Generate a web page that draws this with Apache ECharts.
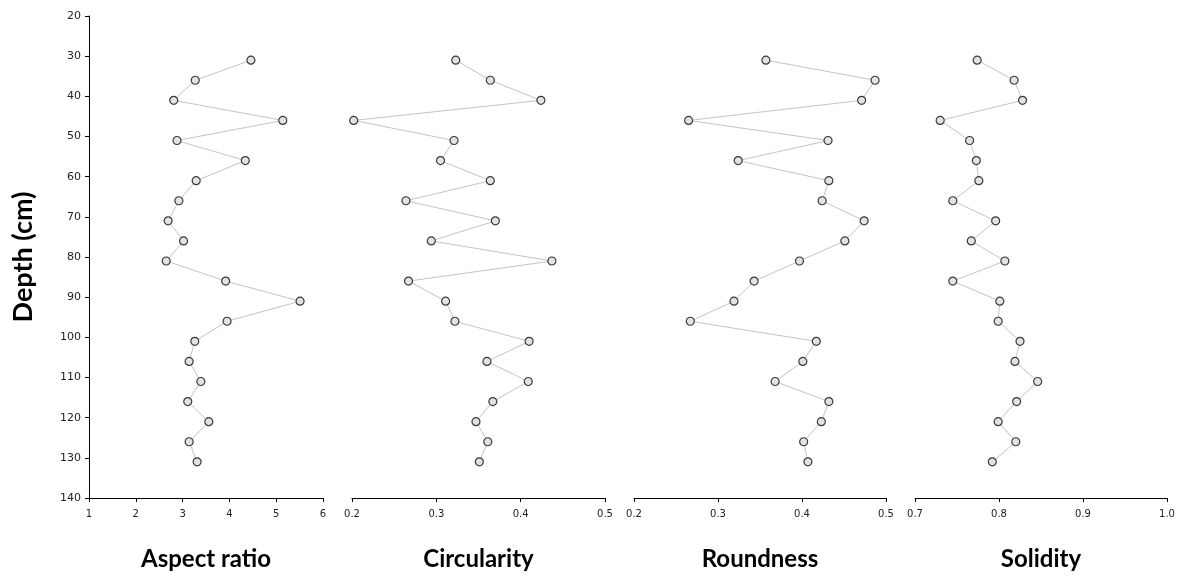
<!DOCTYPE html>
<html>
<head>
<meta charset="utf-8">
<script src="https://cdn.jsdelivr.net/npm/echarts@6/dist/echarts.min.js"></script>
<style>
  html, body { margin: 0; padding: 0; background: #fff; }
  #chart { width: 1184px; height: 576px; }
</style>
</head>
<body>
<div id="chart"></div>
<script>
// Sampling depths (cm)
const depths = [31, 36, 41, 46, 51, 56, 61, 66, 71, 76, 81, 86, 91, 96, 101, 106, 111, 116, 121, 126, 131];

// Shape descriptors per depth
const aspectRatio = [4.46, 3.27, 2.81, 5.14, 2.88, 4.34, 3.29, 2.92, 2.69, 3.02, 2.65, 3.92, 5.51, 3.95, 3.26, 3.14, 3.39, 3.11, 3.56, 3.14, 3.31];
const circularity = [0.323, 0.364, 0.424, 0.202, 0.321, 0.305, 0.364, 0.264, 0.370, 0.294, 0.437, 0.267, 0.311, 0.322, 0.410, 0.360, 0.409, 0.367, 0.347, 0.361, 0.351];
const roundness = [0.357, 0.487, 0.471, 0.265, 0.431, 0.324, 0.432, 0.424, 0.474, 0.451, 0.397, 0.343, 0.319, 0.267, 0.417, 0.401, 0.368, 0.432, 0.423, 0.402, 0.407];
const solidity = [0.774, 0.818, 0.828, 0.730, 0.765, 0.773, 0.776, 0.745, 0.796, 0.767, 0.807, 0.745, 0.801, 0.799, 0.825, 0.819, 0.846, 0.821, 0.799, 0.820, 0.792];

// Panel titles and x ranges
const panelNames = ['Aspect ratio', 'Circularity', 'Roundness', 'Solidity'];
const xMins = [1, 0.2, 0.2, 0.7];
const xMaxs = [6, 0.5, 0.5, 1.0];
const xSteps = [1, 0.1, 0.1, 0.1];
const xDecimals = [0, 1, 1, 1];

// Depth axis
const depthMin = 20, depthMax = 140, depthStep = 10;

const seriesValues = [aspectRatio, circularity, roundness, solidity];
const gridLefts = [89, 352, 634, 915];
const gridWidths = [234, 253, 252, 252];

const chart = echarts.init(document.getElementById('chart'));

const grids = [], xAxes = [], yAxes = [], series = [];
for (let i = 0; i < 4; i++) {
  grids.push({ left: gridLefts[i], width: gridWidths[i], top: 16, bottom: 77, containLabel: false });
  xAxes.push({
    type: 'value', gridIndex: i, min: xMins[i], max: xMaxs[i], interval: xSteps[i],
    position: 'bottom',
    name: panelNames[i], nameLocation: 'middle', nameGap: 49,
    nameTextStyle: { fontFamily: 'Lato, "Open Sans", sans-serif', fontWeight: 'bold', fontSize: 24, color: '#000' },
    axisLine: { show: true, onZero: false, lineStyle: { color: '#000', width: 1 } },
    axisTick: { show: true, length: 4, lineStyle: { color: '#000' } },
    splitLine: { show: false },
    axisLabel: {
      margin: 11, fontSize: 10, color: '#222',
      fontFamily: '"DejaVu Sans", sans-serif',
      formatter: (v => v.toFixed(xDecimals[i]))
    }
  });
  const showY = i === 0;
  yAxes.push({
    type: 'value', gridIndex: i, inverse: true, min: depthMin, max: depthMax, interval: depthStep,
    name: showY ? 'Depth (cm)' : '', nameLocation: 'middle', nameGap: 52,
    nameTextStyle: { fontFamily: 'Lato, "Open Sans", sans-serif', fontWeight: 'bold', fontSize: 27, color: '#000' },
    axisLine: { show: showY, onZero: false, lineStyle: { color: '#000', width: 1 } },
    axisTick: { show: showY, length: 4, lineStyle: { color: '#000' } },
    axisLabel: { show: showY, margin: 8, fontSize: 11, color: '#222', fontFamily: '"DejaVu Sans", sans-serif' },
    splitLine: { show: false }
  });
  series.push({
    type: 'line', xAxisIndex: i, yAxisIndex: i,
    data: depths.map((d, k) => [seriesValues[i][k], d]),
    symbol: 'circle', symbolSize: 8,
    lineStyle: { color: '#c4c4c4', width: 1 },
    itemStyle: { color: '#e2e2e2', borderColor: '#3a3a3a', borderWidth: 1.2 },
    emphasis: { disabled: true },
    animation: false
  });
}

chart.setOption({
  backgroundColor: '#fff',
  animation: false,
  grid: grids,
  xAxis: xAxes,
  yAxis: yAxes,
  series: series
});
</script>
</body>
</html>
